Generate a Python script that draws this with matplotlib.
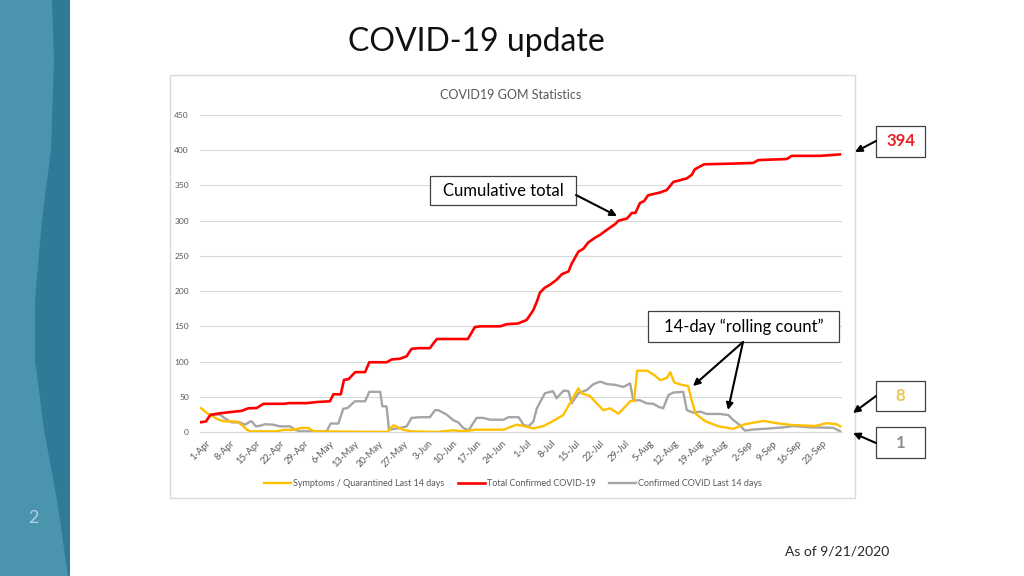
import matplotlib
matplotlib.use('Agg')
import matplotlib.pyplot as plt
import matplotlib.transforms as mtransforms
from matplotlib.patches import Polygon, Rectangle

# ---- data (day 0 = 1-Apr) ----
total_days = [0, 1.4, 2.6, 4.5, 7.8, 11.5, 13.4, 15.8, 17.7, 23.4, 25, 30, 33, 36.6, 37.6,
              39.7, 40.6, 41.9, 43.8, 46.6, 47.8, 52.7, 54.2, 56.5, 58.4, 59.8, 61.7, 65,
              66.2, 67, 75.8, 77.8, 79.3, 85, 86.8, 90, 92.5, 94.4, 95.4, 96.3, 97.7, 99.1,
              101, 102.5, 104.4, 105.3, 107.2, 108.6, 110, 112, 113.4, 115.3, 117.6, 118.6,
              121, 122.4, 123.4, 124.7, 125.9, 127, 130.4, 132.3, 134.2, 138, 139.4, 140.3,
              141.8, 142.9, 151.2, 156.9, 158.3, 166.4, 167.8, 175.8, 181.5]
total_vals = [14, 15, 24, 26, 28, 30, 33.6, 34, 40, 40, 41, 41, 42.6, 43.6, 53.5,
              53.5, 74, 75, 85, 85, 99, 99, 103, 104, 107.5, 118, 119, 119,
              127, 132, 132, 149, 150, 150, 153, 154, 159, 173, 185, 198, 205, 209,
              216, 224, 228, 239, 256, 260, 269, 276, 280, 287, 295, 300,
              303, 311, 311, 325, 328, 336, 340, 343.5, 355, 360, 365, 373,
              377, 380, 381, 382, 386, 387.5, 392, 392, 394]

symptoms_days = [0, 1.6, 3, 4.9, 6.8, 10, 11.5, 13, 14, 21.5, 23.4, 26, 28.6, 30.5, 32,
                 53, 54.6, 56, 57.5, 60, 67, 71.7, 74.5, 78, 86, 87.8, 89.7, 92.5, 94.4,
                 97.3, 100, 102.9, 104.8, 107.2, 108.1, 110.5, 112.4, 114.3, 116.2, 118.6,
                 120.5, 122, 123, 123.9, 126.8, 128.7, 130.5, 132.4, 133.3, 134.4, 136.1,
                 138.4, 139.4, 140.5, 143.2, 147, 151.2, 154.5, 159.8, 163.5, 167.8, 174.5,
                 177.7, 180.6, 181.6]
symptoms_vals = [34, 27, 23, 17.5, 15, 15, 10.4, 3.3, 1, 1, 3, 3, 5.7, 5.7, 1,
                 0, 9.5, 6.6, 3, 1, 0, 2.5, 1, 3.3, 3.3, 7, 10.4, 7.6, 5,
                 8.5, 15.6, 24, 40.7, 62, 55, 51, 40.7, 31, 33.6, 26,
                 36, 44, 44, 87, 87, 81, 73.5, 77, 85, 70.5, 67.5,
                 65, 45, 26, 15.5, 8, 4.5, 11, 15.8, 12.5, 10, 8.5,
                 12.5, 11, 8]

confirmed_days = [2.6, 5.4, 7.3, 8.7, 11, 12.5, 14, 14.4, 15.6, 16.8, 18.2, 20.5, 22.4, 25.3,
                  26.7, 28, 35.7, 36.8, 39, 40.4, 41.6, 43.7, 46.6, 47.8, 50.9, 51.5, 52.7,
                  53.4, 56.5, 58.4, 59.8, 62.2, 65, 66.5, 67.4, 69.8, 71.7, 73.1, 74.5, 76,
                  78.3, 80.2, 82.1, 86, 87.3, 90.2, 91.6, 93, 94.4, 95.4, 97.7, 100, 101,
                  103, 104.4, 105.3, 107.2, 109.6, 111.5, 113.4, 115.3, 117.6, 120, 121.9,
                  122.8, 124.7, 126.6, 128.5, 129.9, 131.3, 132.8, 134.2, 137, 138, 139.9,
                  141.8, 143.7, 147.5, 149.8, 151.2, 153, 154.5, 156.9, 160.7, 165.4, 168.3,
                  173, 179.6, 181.6]
confirmed_vals = [24.6, 24.6, 17.5, 13.7, 13.7, 10.4, 15, 15, 8, 9, 11, 10.4, 8, 8,
                  3.3, 1, 1, 12, 12, 33, 34, 43.6, 43.6, 57, 57, 36.5, 36.5,
                  3.3, 5.7, 8, 20, 21, 21, 31, 31, 24.6, 16.6, 13.7, 5.7, 2.4,
                  20, 20, 17.5, 17.5, 21, 21, 10.4, 8, 14.7, 33.6, 55, 58, 48,
                  58.7, 58, 40.7, 55, 59.6, 68, 71.5, 68, 67, 64, 69,
                  45, 45, 40.7, 40, 36, 33.6, 52.5, 56, 57, 31, 27.4,
                  29, 25.6, 25.6, 24, 17, 10, 2, 3.5, 4.7, 6.5, 8.5,
                  6.6, 6, 1]

tick_days = list(range(0, 176, 7))
tick_labels = ['1-Apr', '8-Apr', '15-Apr', '22-Apr', '29-Apr', '6-May', '13-May', '20-May',
               '27-May', '3-Jun', '10-Jun', '17-Jun', '24-Jun', '1-Jul', '8-Jul', '15-Jul',
               '22-Jul', '29-Jul', '5-Aug', '12-Aug', '19-Aug', '26-Aug', '2-Sep', '9-Sep',
               '16-Sep', '23-Sep']
y_ticks = [0, 50, 100, 150, 200, 250, 300, 350, 400, 450]

latest_total = 394
latest_symptoms = 8
latest_confirmed = 1

YELLOW = '#FFC000'
RED = '#FF0000'
GRAY = '#A5A5A5'
TXT = '#595959'

plt.rcParams['font.family'] = ['Lato', 'DejaVu Sans']

W, H = 1024, 576
fig = plt.figure(figsize=(W / 100, H / 100), dpi=100)
fig.patch.set_facecolor('white')

# background layer in pixel coordinates
bg = fig.add_axes([0, 0, 1, 1], zorder=0)
bg.set_xlim(0, W)
bg.set_ylim(H, 0)
bg.axis('off')

# left sidebar with the darker wave
bg.add_patch(Rectangle((0, 0), 70, H, facecolor='#4A94AE', edgecolor='none'))
wave = [(52, 0), (54, 60), (51, 150), (42, 220), (35, 300), (35, 360), (44, 430),
        (57, 500), (68, 576), (70, 576), (70, 0)]
bg.add_patch(Polygon(wave, closed=True, facecolor='#2F7B97', edgecolor='none'))
bg.text(33, 518, '2', color='#A9D3E6', fontsize=13, ha='center', va='center')

# slide title
bg.text(476, 42, 'COVID-19 update', fontsize=23, color='#111111', ha='center', va='center')
bg.text(837, 551, 'As of 9/21/2020', fontsize=10, color='#262626', ha='center', va='center')

# chart frame
bg.add_patch(Rectangle((170, 75), 685, 423, facecolor='white', edgecolor='#D9D9D9', lw=1))
bg.text(511, 95, 'COVID19 GOM Statistics', fontsize=9, color=TXT, ha='center', va='center')

# ---- the chart itself ----
ax = fig.add_axes([200 / W, 1 - 432 / H, 642 / W, 317 / H], zorder=1)
ax.set_facecolor('none')
ax.plot(symptoms_days, symptoms_vals, color=YELLOW, lw=1.7, solid_joinstyle='round',
        label='Symptoms / Quarantined Last 14 days', zorder=3)
ax.plot(total_days, total_vals, color=RED, lw=1.9, solid_joinstyle='round',
        label='Total Confirmed COVID-19', zorder=4)
ax.plot(confirmed_days, confirmed_vals, color=GRAY, lw=1.7, solid_joinstyle='round',
        label='Confirmed COVID Last 14 days', zorder=2)

ax.set_xlim(-0.3, 182.1)
ax.set_ylim(0, 450)
ax.set_yticks(y_ticks)
ax.set_yticklabels([str(v) for v in y_ticks])
ax.set_xticks(tick_days)
ax.set_xticklabels(tick_labels, rotation=45, ha='right', va='top', rotation_mode='anchor')
ax.tick_params(axis='both', length=0, labelcolor=TXT)
ax.tick_params(axis='y', pad=8, labelsize=6)
ax.tick_params(axis='x', pad=5, labelsize=6.8)
shift = mtransforms.ScaledTranslation(5 / 100, 0, fig.dpi_scale_trans)
for lbl in ax.get_xticklabels():
    lbl.set_transform(lbl.get_transform() + shift)
ax.grid(axis='y', color='#D9D9D9', lw=0.8)
ax.set_axisbelow(True)
for side in ['top', 'right', 'left']:
    ax.spines[side].set_visible(False)
ax.spines['bottom'].set_color('#D9D9D9')

fig.legend(loc='center', bbox_to_anchor=(513 / W, 1 - 484 / H), ncol=3, frameon=False,
           fontsize=6.5, labelcolor=TXT, handlelength=3.0, handletextpad=0.2,
           columnspacing=1.5)

# ---- callouts on top, pixel coordinates ----
top = fig.add_axes([0, 0, 1, 1], zorder=5)
top.set_xlim(0, W)
top.set_ylim(H, 0)
top.axis('off')
top.patch.set_alpha(0)


def callout(x0, y0, x1, y1, text, color='#000000', size=12, weight='normal'):
    top.add_patch(Rectangle((x0, y0), x1 - x0, y1 - y0, facecolor='white',
                            edgecolor='#404040', lw=0.9))
    top.text((x0 + x1) / 2, (y0 + y1) / 2, text, color=color, fontsize=size,
             ha='center', va='center', fontweight=weight)


def arrow(x0, y0, x1, y1):
    top.annotate('', xy=(x1, y1), xytext=(x0, y0),
                 arrowprops=dict(arrowstyle='-|>', color='black', lw=1.5,
                                 mutation_scale=10, shrinkA=0, shrinkB=0))


callout(430, 176, 576, 205, 'Cumulative total')
arrow(576, 195, 617, 216)
callout(648, 311, 839, 342, '14-day \u201crolling count\u201d')
arrow(743, 342, 693, 386)
arrow(743, 342, 728, 410)
callout(876, 126, 925, 157, str(latest_total), color='#E8202A', size=12, weight='bold')
arrow(876, 141, 855, 152)
callout(876, 381, 925, 411, str(latest_symptoms), color='#EBC45A', size=12, weight='bold')
arrow(876, 396, 853, 413)
callout(876, 427, 925, 458, str(latest_confirmed), color='#8C8C8C', size=12, weight='bold')
arrow(876, 443, 853, 433)

fig.savefig('out.png', dpi=100)
